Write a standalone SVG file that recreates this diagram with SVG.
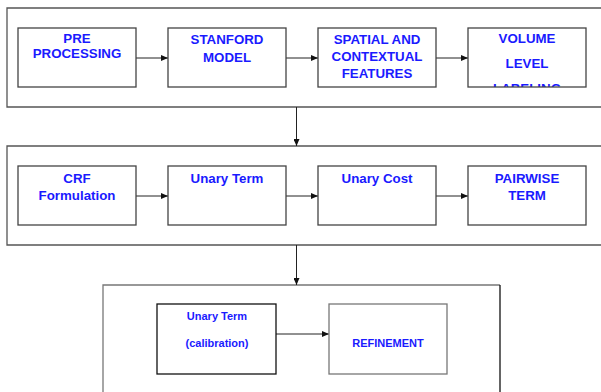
<svg xmlns="http://www.w3.org/2000/svg" width="601" height="392" viewBox="0 0 601 392">
<style>
.cont{fill:none;stroke:#555;stroke-width:1.3}
.box{fill:#fff;stroke:#444;stroke-width:1.3}
.t{font-family:"Liberation Sans",Arial,sans-serif;font-weight:bold;font-size:13.3px;fill:#1a1aff;text-anchor:middle}
.s{font-size:11px}
.c{stroke:#222;stroke-width:1;fill:none;marker-end:url(#ah)}
</style>
<defs>
<marker id="ah" viewBox="0 0 10 10" refX="10" refY="5" markerWidth="7" markerHeight="6" markerUnits="userSpaceOnUse" orient="auto" preserveAspectRatio="none">
<path d="M0,0 L10,5 L0,10 z" fill="#111"/>
</marker>
<clipPath id="clip4"><rect x="468" y="28" width="118" height="59"/></clipPath>
</defs>
<rect x="0" y="0" width="601" height="392" fill="#fff"/>
<g id="containers">
<path class="cont" d="M610,8 H7 V107 H610"/>
<path class="cont" d="M610,146 H7 V245 H610"/>
<path class="cont" d="M103,400 V285 H500" style="stroke:#777"/>
<path d="M500,285 V400" stroke="#111" stroke-width="1.3" fill="none"/>
</g>
<g id="connectors">
<line class="c" x1="136" y1="58" x2="168" y2="58"/>
<line class="c" x1="286" y1="58" x2="318" y2="58"/>
<line class="c" x1="436" y1="58" x2="468" y2="58"/>
<line class="c" x1="296.5" y1="107" x2="296.5" y2="146"/>
<line class="c" x1="136" y1="196" x2="168" y2="196"/>
<line class="c" x1="286" y1="196" x2="318" y2="196"/>
<line class="c" x1="436" y1="196" x2="468" y2="196"/>
<line class="c" x1="296.5" y1="245" x2="296.5" y2="285"/>
<line class="c" x1="276" y1="334" x2="329" y2="334"/>
</g>
<g id="n1"><rect class="box" x="18" y="28" width="118" height="59"/><text class="t" x="77" y="43">PRE</text><text class="t" x="77" y="58">PROCESSING</text></g>
<g id="n2"><rect class="box" x="168" y="28" width="118" height="59"/><text class="t" x="227" y="44">STANFORD</text><text class="t" x="227" y="62">MODEL</text></g>
<g id="n3"><rect class="box" x="318" y="28" width="118" height="59"/><text class="t" x="377" y="44">SPATIAL AND</text><text class="t" x="377" y="61">CONTEXTUAL</text><text class="t" x="377" y="78">FEATURES</text></g>
<g id="n4"><rect x="468" y="28" width="118" height="59" fill="#fff"/><g clip-path="url(#clip4)"><text class="t" x="527" y="43">VOLUME</text><text class="t" x="527" y="68">LEVEL</text><text class="t" x="527" y="93">LABELING</text></g><rect class="box" x="468" y="28" width="118" height="59" fill="none" style="fill:none"/></g>
<g id="n5"><rect class="box" x="18" y="166" width="118" height="59"/><text class="t" x="77" y="183">CRF</text><text class="t" x="77" y="200">Formulation</text></g>
<g id="n6"><rect class="box" x="168" y="166" width="118" height="59"/><text class="t" x="227" y="183">Unary Term</text></g>
<g id="n7"><rect class="box" x="318" y="166" width="118" height="59"/><text class="t" x="377" y="183">Unary Cost</text></g>
<g id="n8"><rect class="box" x="468" y="166" width="118" height="59"/><text class="t" x="527" y="183">PAIRWISE</text><text class="t" x="527" y="200">TERM</text></g>
<g id="n9"><rect class="box" x="157" y="304" width="119" height="70" style="stroke:#111"/><text class="t s" x="217" y="320">Unary Term</text><text class="t s" x="217" y="347">(calibration)</text></g>
<g id="n10"><rect class="box" x="329" y="304" width="118" height="70" style="stroke:#777"/><text class="t s" x="388" y="347">REFINEMENT</text></g>
</svg>
